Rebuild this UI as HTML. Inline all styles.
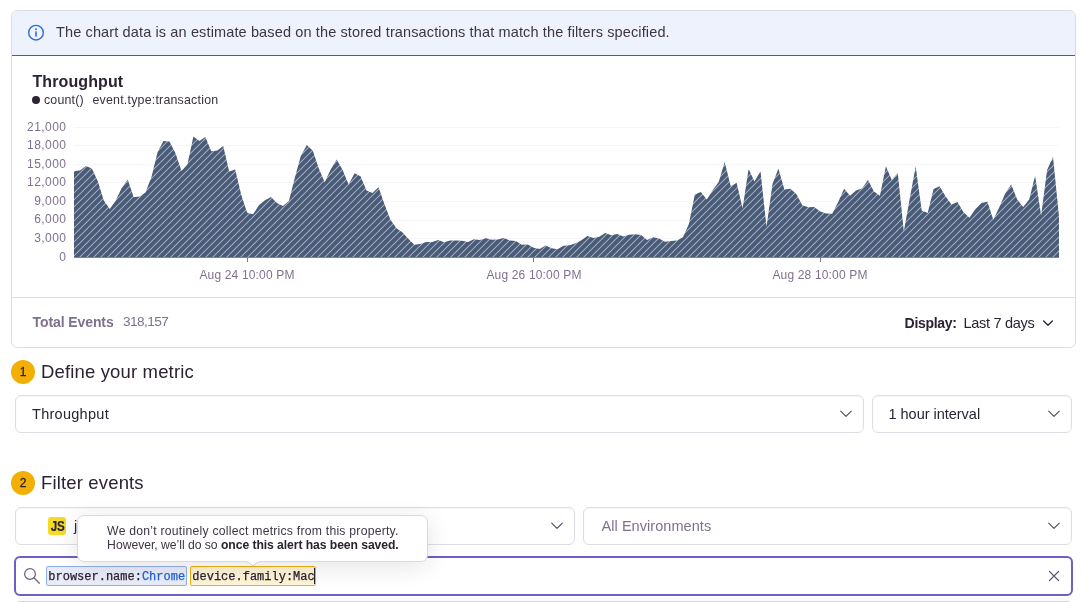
<!DOCTYPE html>
<html lang="en">
<head>
<meta charset="utf-8">
<title>Alert rule</title>
<style>
*{box-sizing:border-box;margin:0;padding:0}
html,body{width:1086px;height:602px;overflow:hidden;background:#fff}
body{position:relative;font-family:"Liberation Sans",sans-serif;color:#2b2233;font-size:14px}
.abs{position:absolute;white-space:nowrap}
.panel{position:absolute;left:11px;top:10px;width:1065px;height:338px;border:1px solid #e0dce5;border-radius:6px;background:#fff;overflow:hidden}
.alert{position:absolute;left:0;top:0;width:100%;height:45px;background:#eef2fc;border-bottom:1px solid #2f62d0}
.footer-line{position:absolute;left:0;top:286px;width:100%;height:1px;background:#e0dce5}
.sel{position:absolute;height:38px;border:1px solid #e0dce5;border-radius:6px;background:#fff;box-shadow:inset 0 1px 2px rgba(43,34,51,.04)}
.num{position:absolute;width:24px;height:24px;border-radius:50%;background:#f2af04;color:#2b2233;font-size:12px;text-align:center;line-height:24px;-webkit-text-stroke:.3px #2b2233}
.h{position:absolute;font-size:18.5px;letter-spacing:.155px;color:#2b2233;white-space:nowrap}
.gray{color:#80708f}
.ylab{position:absolute;left:0;width:66.4px;text-align:right;font-size:12px;letter-spacing:.44px;color:#80708f;line-height:14px}
.xlab{position:absolute;width:120px;text-align:center;font-size:12px;letter-spacing:.16px;color:#80708f;line-height:14px}
.search{position:absolute;left:14px;top:556px;width:1059px;height:40px;border:2px solid #6c5fc7;border-radius:6px;background:#fff}
.tok{position:absolute;top:566px;height:20px;border-radius:2px;font-family:"Liberation Mono",monospace;font-size:12px;line-height:18px;white-space:nowrap;padding-top:.7px;-webkit-text-stroke:.25px currentColor}
.tip{position:absolute;left:77px;top:515px;width:351px;height:47px;padding-left:.8px;background:#fff;border:1px solid #dcd7e3;border-radius:7px;box-shadow:0 4px 24px rgba(43,34,51,.12);font-size:12.2px;line-height:14px;text-align:center;padding-top:7.8px;color:#3e3446}
</style>
</head>
<body>
<div id="root" style="position:absolute;left:0;top:0;width:1086px;height:602px;will-change:transform;opacity:.999">

<div class="panel">
  <div class="alert"></div>
  <div class="footer-line"></div>
</div>

<!-- alert content -->
<svg class="abs" style="left:27px;top:24.3px" width="18" height="18" viewBox="0 0 18 18">
  <circle cx="9" cy="8.7" r="7.3" fill="none" stroke="#2f6bdc" stroke-width="1.4"/>
  <rect x="8.2" y="7.4" width="1.6" height="5.2" fill="#2f6bdc"/>
  <circle cx="9" cy="5.3" r="0.95" fill="#2f6bdc"/>
</svg>
<div class="abs" id="alerttxt" style="left:56px;top:24px;font-size:14.5px;letter-spacing:.13px;line-height:16px;color:#3e3446">The chart data is an estimate based on the stored transactions that match the filters specified.</div>

<!-- chart header -->
<div class="abs" id="ttl" style="left:32.5px;top:73px;font-size:16px;letter-spacing:.1px;font-weight:bold;line-height:18px;color:#2b2233">Throughput</div>
<div class="abs" style="left:32px;top:96px;width:8px;height:8px;border-radius:50%;background:#2b2233"></div>
<div class="abs" id="lg1" style="left:44px;top:92.5px;font-size:12.4px;letter-spacing:.17px;line-height:14px;color:#3a3042">count()</div>
<div class="abs" id="lg2" style="left:92.5px;top:92.5px;font-size:12.4px;letter-spacing:.21px;line-height:14px;color:#3a3042">event.type:transaction</div>

<!-- y labels -->
<div class="ylab" style="top:120px">21,000</div>
<div class="ylab" style="top:138px">18,000</div>
<div class="ylab" style="top:157px">15,000</div>
<div class="ylab" style="top:175px">12,000</div>
<div class="ylab" style="top:194px">9,000</div>
<div class="ylab" style="top:212px">6,000</div>
<div class="ylab" style="top:231px">3,000</div>
<div class="ylab" style="top:250px">0</div>

<!-- chart -->
<svg class="abs" id="chart" style="left:0;top:110px" width="1086" height="160" viewBox="0 110 1086 160">
  <defs>
    <pattern id="hatch" width="7" height="7" patternUnits="userSpaceOnUse">
      <rect width="7" height="7" fill="#485b78"/>
      <path d="M-1 8.88L8.88 -1M-1 1.88L1.88 -1M6.88 8L8 6.88" stroke="#fff" stroke-opacity=".54" stroke-width="1.02"/>
    </pattern>
  </defs>
  <g stroke="#f6f5f9" stroke-width="1">
    <line x1="74" x2="1059" y1="127.5" y2="127.5"/>
    <line x1="74" x2="1059" y1="145.5" y2="145.5"/>
    <line x1="74" x2="1059" y1="164.5" y2="164.5"/>
    <line x1="74" x2="1059" y1="182.5" y2="182.5"/>
    <line x1="74" x2="1059" y1="201.5" y2="201.5"/>
    <line x1="74" x2="1059" y1="220.5" y2="220.5"/>
    <line x1="74" x2="1059" y1="238.5" y2="238.5"/>
  </g>
  <path id="area" fill="url(#hatch)" d="M74 257.5L74.0 171.0L80.0 170.4L85.9 166.0L91.9 168.5L97.9 181.5L103.8 200.6L109.8 208.9L115.8 200.6L121.8 187.8L127.7 179.5L133.7 197.3L139.7 196.4L145.6 192.3L151.6 176.5L157.6 152.1L163.5 141.1L169.5 141.6L175.5 153.2L181.5 171.0L187.4 164.4L193.4 136.6L199.4 141.1L205.3 137.1L211.3 151.3L217.3 150.4L223.2 146.1L229.2 171.5L235.2 169.4L241.2 194.8L247.1 212.8L253.1 214.2L259.1 205.1L265.0 200.3L271.0 197.0L277.0 203.1L282.9 206.1L288.9 201.1L294.9 177.4L300.8 156.1L306.8 145.0L312.8 150.8L318.8 168.6L324.7 182.3L330.7 169.6L336.7 159.6L342.6 169.9L348.6 184.5L354.6 173.2L360.5 176.2L366.5 190.6L372.5 193.1L378.5 187.3L384.4 203.9L390.4 219.7L396.4 228.3L402.3 232.2L408.3 238.7L414.3 244.8L420.2 244.0L426.2 241.9L432.2 242.0L438.2 239.9L444.1 242.3L450.1 240.4L456.1 240.5L462.0 240.7L468.0 242.0L474.0 239.2L479.9 239.9L485.9 238.2L491.9 239.7L497.8 239.5L503.8 237.9L509.8 240.4L515.8 241.0L521.7 244.8L527.7 244.5L533.7 247.8L539.6 249.0L545.6 245.5L551.6 248.2L557.5 249.3L563.5 245.7L569.5 245.3L575.5 243.3L581.4 240.2L587.4 235.9L593.4 238.0L599.3 236.7L605.3 233.1L611.3 235.2L617.2 233.9L623.2 236.4L629.2 234.7L635.2 234.2L641.1 235.1L647.1 240.0L653.1 237.2L659.0 238.4L665.0 241.7L671.0 240.9L676.9 240.5L682.9 237.2L688.9 223.9L694.8 194.4L700.8 192.0L706.8 199.4L712.8 189.9L718.7 182.1L724.7 162.0L730.7 186.2L736.6 182.7L742.6 208.2L748.6 169.1L754.5 181.6L760.5 171.3L766.5 226.7L772.5 184.0L778.4 168.8L784.4 189.4L790.4 188.7L796.3 194.0L802.3 205.3L808.3 207.3L814.2 207.0L820.2 211.4L826.2 213.4L832.2 213.8L838.1 202.3L844.1 188.7L850.1 195.7L856.0 190.4L862.0 188.5L868.0 179.9L873.9 191.5L879.9 195.7L885.9 166.3L891.8 179.9L897.8 172.9L903.8 231.4L909.8 198.2L915.7 166.6L921.7 210.6L927.7 213.1L933.6 189.0L939.6 186.2L945.6 196.5L951.5 204.5L957.5 202.0L963.5 212.3L969.5 217.8L975.4 209.0L981.4 203.1L987.4 201.8L993.3 219.7L999.3 207.3L1005.3 193.2L1011.2 184.5L1017.2 199.5L1023.2 207.0L1029.2 199.5L1035.1 175.7L1041.1 215.6L1047.1 169.9L1053.0 157.0L1059.0 216.4L1059 257.5Z"/>
  <line x1="74" x2="1059" y1="257.5" y2="257.5" stroke="#8d7b9e" stroke-width="1"/>
  <g stroke="#80708f" stroke-width="1">
    <line x1="247.5" x2="247.5" y1="258" y2="262"/>
    <line x1="533.5" x2="533.5" y1="258" y2="262"/>
    <line x1="820.5" x2="820.5" y1="258" y2="262"/>
  </g>
</svg>

<!-- x labels -->
<div class="xlab" style="left:187px;top:268px">Aug 24 10:00 PM</div>
<div class="xlab" style="left:474px;top:268px">Aug 26 10:00 PM</div>
<div class="xlab" style="left:760px;top:268px">Aug 28 10:00 PM</div>

<!-- footer -->
<div class="abs gray" id="te" style="left:32.5px;top:314px;font-weight:bold;letter-spacing:-.09px;line-height:16px">Total Events</div>
<div class="abs gray" id="tev" style="left:123px;top:314px;font-size:13.6px;letter-spacing:-.55px;line-height:16px">318,157</div>
<div class="abs" id="disp" style="left:904.6px;top:315.4px;font-weight:bold;letter-spacing:-.3px;line-height:16px">Display:</div>
<div class="abs" id="l7" style="left:963.5px;top:315.4px;font-size:14.5px;letter-spacing:-.3px;line-height:16px">Last 7 days</div>
<svg class="abs" style="left:1042px;top:318px" width="12" height="10" viewBox="0 0 12 10"><path d="M1.6 3L6 7.2L10.4 3" fill="none" stroke="#2b2233" stroke-width="1.3" stroke-linecap="round" stroke-linejoin="round"/></svg>

<!-- section 1 -->
<div class="num" style="left:11px;top:360px">1</div>
<div class="h" id="h1" style="left:41px;top:361px;line-height:22px">Define your metric</div>
<div class="sel" style="left:15px;top:395px;width:849px"></div>
<div class="abs" id="s1" style="left:32px;top:406px;font-size:14.5px;letter-spacing:.28px;line-height:16px">Throughput</div>
<svg class="abs" style="left:839px;top:408px" width="14" height="12" viewBox="0 0 14 12"><path d="M1.7 3.2L7 8.3L12.3 3.2" fill="none" stroke="#584a66" stroke-width="1.15" stroke-linecap="round" stroke-linejoin="round"/></svg>
<div class="sel" style="left:872px;top:395px;width:200px"></div>
<div class="abs" id="s2" style="left:888.5px;top:406px;font-size:14.5px;letter-spacing:-.02px;line-height:16px">1 hour interval</div>
<svg class="abs" style="left:1047px;top:408px" width="14" height="12" viewBox="0 0 14 12"><path d="M1.7 3.2L7 8.3L12.3 3.2" fill="none" stroke="#584a66" stroke-width="1.15" stroke-linecap="round" stroke-linejoin="round"/></svg>

<!-- section 2 -->
<div class="num" style="left:11px;top:471px">2</div>
<div class="h" id="h2" style="left:41px;top:472px;line-height:22px">Filter events</div>
<div class="sel" style="left:15px;top:507px;width:560px"></div>
<div class="abs" style="left:48px;top:517px;width:18px;height:18px;border-radius:3px;background:#f5da27;color:#2b2233;font-size:14.5px;font-weight:bold;line-height:18.6px;text-align:center;letter-spacing:-.2px;padding-left:.6px;-webkit-text-stroke:.2px #2b2233"><span style="display:inline-block;transform:scaleX(.8)">JS</span></div>
<div class="abs" style="left:74px;top:518px;font-size:14.5px;line-height:16px">javascript</div>
<svg class="abs" style="left:550px;top:520px" width="14" height="12" viewBox="0 0 14 12"><path d="M1.7 3.2L7 8.3L12.3 3.2" fill="none" stroke="#584a66" stroke-width="1.15" stroke-linecap="round" stroke-linejoin="round"/></svg>
<div class="sel" style="left:583px;top:507px;width:489px"></div>
<div class="abs gray" id="env" style="left:601.5px;top:518px;font-size:14.5px;letter-spacing:.06px;line-height:16px">All Environments</div>
<svg class="abs" style="left:1047px;top:520px" width="14" height="12" viewBox="0 0 14 12"><path d="M1.7 3.2L7 8.3L12.3 3.2" fill="none" stroke="#584a66" stroke-width="1.15" stroke-linecap="round" stroke-linejoin="round"/></svg>

<!-- search -->
<div class="search"></div>
<svg class="abs" style="left:23px;top:567px" width="18" height="18" viewBox="0 0 18 18"><circle cx="7" cy="6.9" r="5.4" fill="none" stroke="#6f6080" stroke-width="1.25"/><path d="M10.9 10.8L16.4 16.2" stroke="#6f6080" stroke-width="1.25" stroke-linecap="round"/></svg>
<div class="tok" id="tk1" style="left:46px;width:141px;background:#e8ecf8;border:1px solid #8fb0ea;padding-left:1.3px"><span style="color:#2b2233">browser.name:</span><span style="color:#2562d4">Chrome</span></div>
<div class="tok" id="tk2" style="left:190px;width:126px;background:#fdf3d5;border:1px solid #f2b00c;padding-left:1.3px;color:#2b2233">device.family:Mac</div>
<div class="abs" style="left:314.3px;top:568px;width:1px;height:16px;background:#2b2233"></div>
<svg class="abs" style="left:1048px;top:570px" width="12" height="12" viewBox="0 0 12 12"><path d="M1.5 1.5L10.5 10.5M10.5 1.5L1.5 10.5" stroke="#655674" stroke-width="1.2" stroke-linecap="round"/></svg>
<div class="abs" style="left:18px;top:597px;width:1051px;height:4px;background:#fafafb"></div><div class="abs" style="left:18px;top:601px;width:1051px;height:1px;background:#d9d5e0"></div>

<!-- tooltip -->
<div class="tip"><span id="tp1" style="letter-spacing:.24px">We don’t routinely collect metrics from this property.</span><br><span id="tp2" style="letter-spacing:-.03px">However, we’ll do so <b style="color:#2b2233;letter-spacing:-.08px">once this alert has been saved.</b></span></div>
<svg class="abs" style="left:245.9px;top:560.5px" width="14" height="7" viewBox="0 0 14 7"><path d="M0.6 1C3 1 4.5 3 7 5C9.500 3 11 1 13.400 1" fill="#fff" stroke="#cbc5d6" stroke-width="1"/><rect x="1.2" y="-0.2" width="11.6" height="1.4" fill="#fff"/></svg>

</div>
</body>
</html>
